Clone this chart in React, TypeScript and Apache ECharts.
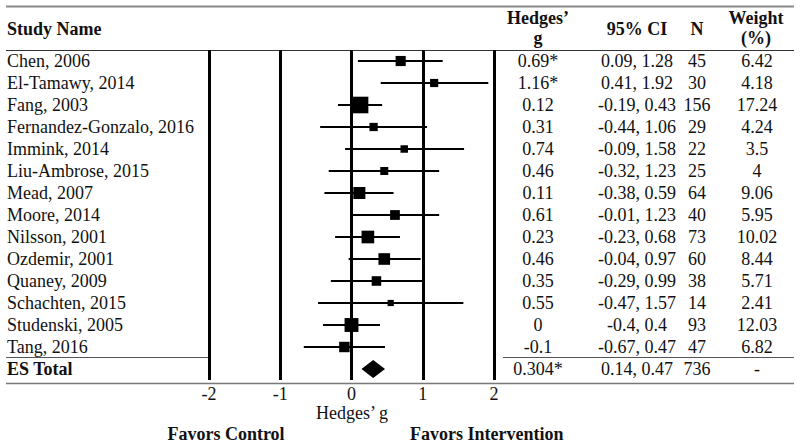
import React, { useEffect, useRef } from "react";
import * as echarts from "echarts";

const studies = [
  "Chen, 2006",
  "El-Tamawy, 2014",
  "Fang, 2003",
  "Fernandez-Gonzalo, 2016",
  "Immink, 2014",
  "Liu-Ambrose, 2015",
  "Mead, 2007",
  "Moore, 2014",
  "Nilsson, 2001",
  "Ozdemir, 2001",
  "Quaney, 2009",
  "Schachten, 2015",
  "Studenski, 2005",
  "Tang, 2016",
];
const hedgesG = [0.69, 1.16, 0.12, 0.31, 0.74, 0.46, 0.11, 0.61, 0.23, 0.46, 0.35, 0.55, 0, -0.1];
const significant = [true, true, false, false, false, false, false, false, false, false, false, false, false, false];
const ciLow = [0.09, 0.41, -0.19, -0.44, -0.09, -0.32, -0.38, -0.01, -0.23, -0.04, -0.29, -0.47, -0.4, -0.67];
const ciHigh = [1.28, 1.92, 0.43, 1.06, 1.58, 1.23, 0.59, 1.23, 0.68, 0.97, 0.99, 1.57, 0.4, 0.47];
const sampleN = [45, 30, 156, 29, 22, 25, 64, 40, 73, 60, 38, 14, 93, 47];
const weights = [6.42, 4.18, 17.24, 4.24, 3.5, 4, 9.06, 5.95, 10.02, 8.44, 5.71, 2.41, 12.03, 6.82];

const totalLabel = "ES Total";
const totalG = 0.304;
const totalLow = 0.14;
const totalHigh = 0.47;
const totalN = 736;

const xTicks = [-2, -1, 0, 1, 2];
const xAxisTitle = "Hedges’ g";

const FONT = "'Liberation Serif', 'Times New Roman', serif";

const rowLabels = [...studies, totalLabel];
const gLabels = [...hedgesG.map((g, i) => `${g}${significant[i] ? "*" : ""}`), `${totalG}*`];
const ciLabels = [...ciLow.map((lo, i) => `${lo}, ${ciHigh[i]}`), `${totalLow}, ${totalHigh}`];
const nLabels = [...sampleN.map((n) => `${n}`), `${totalN}`];
const weightLabels = [...weights.map((w) => `${w}`), "-"];

export default function App() {
  const ref = useRef<HTMLDivElement>(null);

  useEffect(() => {
    if (!ref.current) return;
    const chart = echarts.init(ref.current, null, { renderer: "svg" });

    const gridLeft = 209;
    const gridRight = 800 - 494;
    const gridTop = 50;
    const gridBottom = 444 - 380;

    const rightAxis = (labels: string[], margin: number) => ({
      type: "category",
      data: rowLabels,
      inverse: true,
      position: "right",
      axisLine: { show: false },
      axisTick: { show: false },
      splitLine: { show: false },
      axisLabel: {
        interval: 0,
        margin,
        align: "center",
        fontSize: 18,
        fontFamily: FONT,
        color: "#111",
        formatter: (_v: string, idx: number) => labels[idx],
      },
    });

    const studyData = studies.map((_, i) => [i, hedgesG[i], ciLow[i], ciHigh[i], weights[i]]);
    const totalData = [[studies.length, totalG, totalLow, totalHigh]];

    const textEl = (text: string, x: number, y: number, align = "center", bold = true) => ({
      type: "text",
      x,
      y,
      style: {
        text,
        font: `${bold ? "bold " : ""}18px ${FONT}`,
        fill: "#111",
        textAlign: align,
        textVerticalAlign: "middle",
        lineHeight: 20,
      },
    });

    const option: any = {
      animation: false,
      backgroundColor: "#fff",
      grid: { left: gridLeft, right: gridRight, top: gridTop, bottom: gridBottom },
      xAxis: {
        type: "value",
        min: xTicks[0],
        max: xTicks[xTicks.length - 1],
        interval: 1,
        axisLine: { show: false },
        axisTick: { show: false },
        splitLine: { show: true, lineStyle: { color: "#000", width: 3 } },
        axisLabel: { fontSize: 18, fontFamily: FONT, color: "#111", margin: 5, lineHeight: 18 },
      },
      yAxis: [
        {
          type: "category",
          data: rowLabels,
          inverse: true,
          axisLine: { show: false },
          axisTick: { show: false },
          splitLine: { show: false },
          axisLabel: {
            interval: 0,
            margin: 202,
            align: "left",
            fontSize: 18,
            fontFamily: FONT,
            color: "#111",
            formatter: (v: string) => (v === totalLabel ? `{b|${v}}` : `{n|${v}}`),
            rich: {
              n: { fontSize: 18, fontFamily: FONT, color: "#111" },
              b: { fontSize: 18, fontFamily: FONT, color: "#111", fontWeight: "bold" },
            },
          },
        },
        rightAxis(gLabels, 44),
        rightAxis(ciLabels, 143),
        rightAxis(nLabels, 203),
        rightAxis(weightLabels, 263),
      ],
      series: [
        {
          type: "custom",
          xAxisIndex: 0,
          yAxisIndex: 0,
          encode: { x: [1, 2, 3], y: 0 },
          data: studyData,
          renderItem: (_params: any, api: any) => {
            const row = api.value(0);
            const c = api.coord([api.value(1), row]);
            const l = api.coord([api.value(2), row]);
            const h = api.coord([api.value(3), row]);
            const s = 4 * Math.sqrt(api.value(4));
            return {
              type: "group",
              children: [
                {
                  type: "line",
                  shape: { x1: l[0], y1: c[1], x2: h[0], y2: c[1] },
                  style: { stroke: "#000", lineWidth: 2 },
                },
                {
                  type: "rect",
                  shape: { x: c[0] - s / 2, y: c[1] - s / 2, width: s, height: s },
                  style: { fill: "#000" },
                },
              ],
            };
          },
        },
        {
          type: "custom",
          xAxisIndex: 0,
          yAxisIndex: 0,
          encode: { x: [1, 2, 3], y: 0 },
          data: totalData,
          renderItem: (_params: any, api: any) => {
            const row = api.value(0);
            const c = api.coord([api.value(1), row]);
            const l = api.coord([api.value(2), row]);
            const h = api.coord([api.value(3), row]);
            const y = c[1];
            return {
              type: "polygon",
              shape: {
                points: [
                  [l[0], y],
                  [c[0], y - 9],
                  [h[0], y],
                  [c[0], y + 9],
                ],
              },
              style: { fill: "#000" },
            };
          },
        },
      ],
      graphic: [
        { type: "line", shape: { x1: 6, y1: 6.5, x2: 794, y2: 6.5 }, style: { stroke: "#888", lineWidth: 2 } },
        { type: "line", shape: { x1: 6, y1: 50.5, x2: 794, y2: 50.5 }, style: { stroke: "#333", lineWidth: 1 } },
        { type: "line", shape: { x1: 6, y1: 357.5, x2: 208, y2: 357.5 }, style: { stroke: "#555", lineWidth: 1 } },
        { type: "line", shape: { x1: 503, y1: 357.5, x2: 794, y2: 357.5 }, style: { stroke: "#555", lineWidth: 1 } },
        { type: "line", shape: { x1: 6, y1: 383.5, x2: 794, y2: 383.5 }, style: { stroke: "#777", lineWidth: 1.5 } },
        textEl("Study Name", 7, 29, "left"),
        textEl("Hedges’\ng", 538, 28),
        textEl("95% CI", 637, 29),
        textEl("N", 697, 29),
        textEl("Weight\n(%)", 756, 28),
        { ...textEl(xAxisTitle, 352, 413, "center", false), style: { ...textEl(xAxisTitle, 352, 413, "center", false).style, lineHeight: 18 } },
        textEl("Favors Control", 226, 434),
        textEl("Favors Intervention", 410, 434, "left"),
      ],
    };

    chart.setOption(option);
    return () => chart.dispose();
  }, []);

  return (
    <div
      ref={ref}
      style={{ position: "fixed", left: 0, top: 0, width: "800px", height: "444px", background: "#fff" }}
    />
  );
}
